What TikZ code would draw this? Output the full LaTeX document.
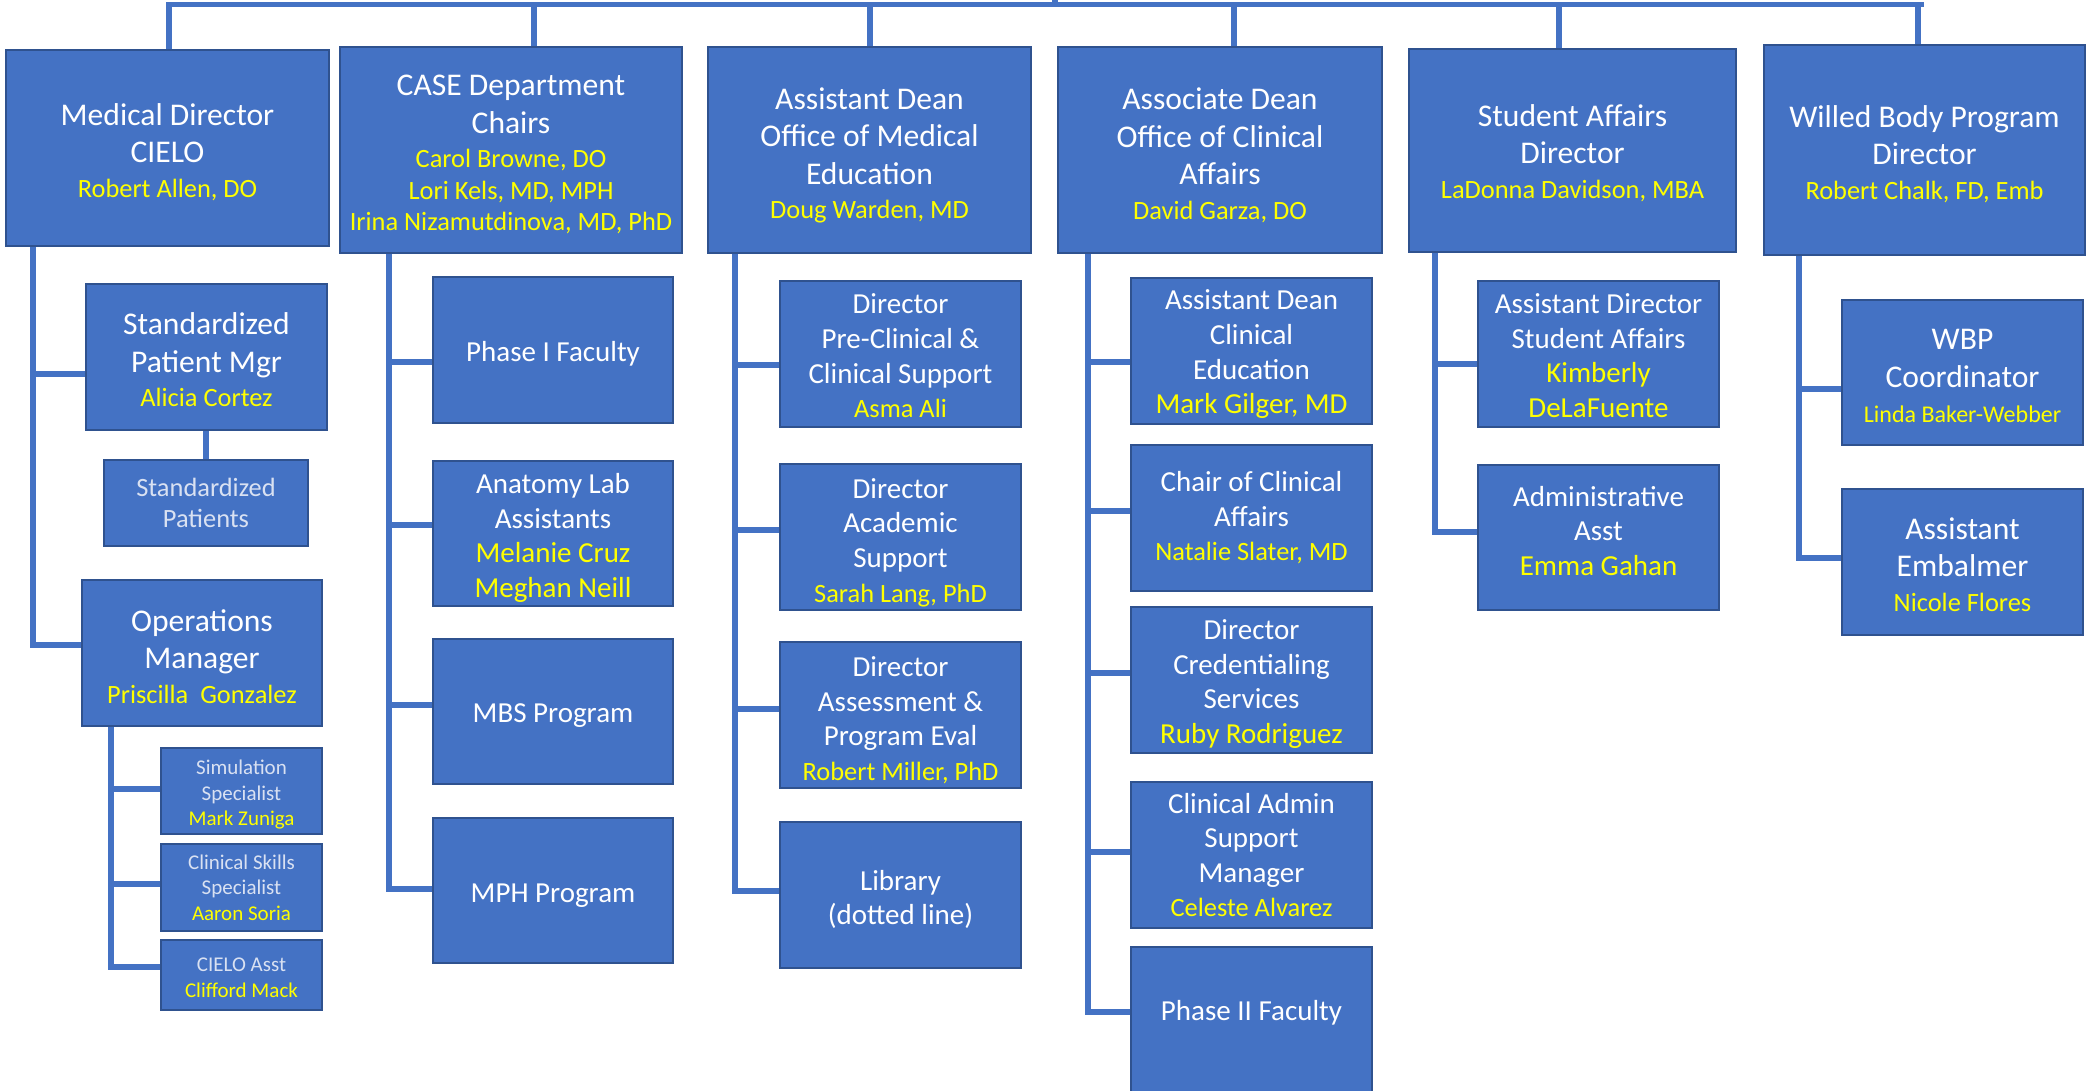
\documentclass[tikz,border=0pt]{standalone}
\usepackage{fontspec}
\setmainfont{Carlito}
\usetikzlibrary{backgrounds}
\definecolor{boxfill}{HTML}{4472C4}
\definecolor{boxline}{HTML}{2F528F}
\definecolor{connc}{HTML}{4472C4}
\definecolor{yel}{HTML}{FFFF00}
\definecolor{gry}{HTML}{D9E1F2}
\newcommand\fxT{\fontsize{15.8}{18.8}\selectfont}
\newcommand\fxN{\fontsize{13.2}{15.8}\selectfont}
\newcommand\fxM{\fontsize{14.5}{17.3}\selectfont}
\newcommand\fxS{\fontsize{10.5}{12.8}\selectfont}
\newcommand\fxL{\fontsize{12}{14.4}\selectfont}
\newcommand\nm[2][\fxN]{{#1\color{yel}#2}}
\newcommand\orgbox[7][]{%
  \node[box,minimum width={(#4-#2)*0.5pt},minimum height={(#5-#3)*0.5pt}] (#6) at ({(#2+#4)/2},{(#3+#5)/2}) {};
  \node[boxtext,#1] (#6-t) at (#6.center) {#7};}
\tikzset{
  box/.style={draw=boxline, fill=boxfill, line width=1.35pt, inner sep=0pt},
  boxtext/.style={inner sep=0pt, align=center, text=white, font=\fxT},
  conn/.style={draw=connc, line width=2.75pt, line cap=rect},
}
\begin{document}
\begin{tikzpicture}[x=0.5pt,y=-0.5pt]
\useasboundingbox (0,0) rectangle (2087,1091);
% level 1
\orgbox[yshift=-2pt]{6}{50}{329}{246}{md}{Medical Director\\CIELO\\[-1.5pt]\nm{Robert Allen, DO}}
\orgbox[yshift=-2.3pt]{340}{47}{682}{253}{case}{CASE Department\\Chairs\\[-1.5pt]\nm{Carol Browne, DO}\\[-3pt]\nm{Lori Kels, MD, MPH}\\[-3pt]\nm{Irina Nizamutdinova, MD, PhD}}
\orgbox[yshift=-2.7pt]{708}{47}{1031}{253}{ome}{Assistant Dean\\Office of Medical\\Education\\[-1.5pt]\nm{Doug Warden, MD}}
\orgbox[yshift=-2.7pt]{1058}{47}{1382}{253}{ocar}{Associate Dean\\Office of Clinical\\Affairs\\[-1.5pt]\nm{David Garza, DO}}
\orgbox[yshift=-1.3pt]{1409}{49}{1736}{252}{sa}{Student Affairs\\Director\\[-1.5pt]\nm{LaDonna Davidson, MBA}}
\orgbox[yshift=-2pt]{1764}{45}{2085}{255}{wb}{Willed Body Program\\Director\\[-1.5pt]\nm{Robert Chalk, FD, Emb}}
% CIELO
\orgbox[yshift=-1.5pt]{86}{284}{327}{430}{spm}{Standardized\\Patient Mgr\\[-1.5pt]\nm{Alicia Cortez}}
\orgbox[font=\fxN,text=gry]{104}{460}{308}{546}{sp}{Standardized\\Patients}
\orgbox[yshift=-1.7pt]{82}{580}{322}{726}{ops}{Operations\\Manager\\[-1.5pt]\nm{Priscilla\ \ Gonzalez}}
\orgbox[font=\fxS,text=gry,yshift=-1.8pt]{161}{748}{322}{834}{sim}{Simulation\\Specialist\\\nm[\fxS]{Mark Zuniga}}
\orgbox[font=\fxS,text=gry]{161}{844}{322}{931}{css}{Clinical Skills\\Specialist\\\nm[\fxS]{Aaron Soria}}
\orgbox[font=\fxS,text=gry,yshift=-1.3pt]{161}{940}{322}{1010}{cia}{CIELO Asst\\\nm[\fxS]{Clifford Mack}}
% CASE
\orgbox[font=\fxM,yshift=-2pt]{433}{277}{673}{423}{ph1}{Phase I Faculty}
\orgbox[font=\fxM,yshift=-2.3pt]{433}{461}{673}{606}{anat}{Anatomy Lab\\Assistants\\\nm[\fxM]{Melanie Cruz}\\\nm[\fxM]{Meghan Neill}}
\orgbox[font=\fxM,yshift=-2pt]{433}{639}{673}{784}{mbs}{MBS Program}
\orgbox[font=\fxM,yshift=-2.7pt]{433}{818}{673}{963}{mph}{MPH Program}
% OME
\orgbox[font=\fxM,yshift=-1pt]{780}{281}{1021}{427}{dpc}{Director\\Pre-Clinical \&\\Clinical Support\\\nm{Asma Ali}}
\orgbox[font=\fxM,yshift=-2.7pt]{780}{464}{1021}{610}{dac}{Director\\Academic\\Support\\\nm{Sarah Lang, PhD}}
\orgbox[font=\fxM,yshift=-2.7pt]{780}{642}{1021}{788}{das}{Director\\Assessment \&\\Program Eval\\\nm{Robert Miller, PhD}}
\orgbox[font=\fxM,yshift=-2.3pt]{780}{822}{1021}{968}{lib}{Library\\(dotted line)}
% OCA
\orgbox[font=\fxM,yshift=-1.7pt]{1131}{278}{1372}{424}{adce}{Assistant Dean\\Clinical\\Education\\\nm[\fxM]{Mark Gilger, MD}}
\orgbox[font=\fxM]{1131}{445}{1372}{591}{ccaf}{Chair of Clinical\\Affairs\\\nm{Natalie Slater, MD}}
\orgbox[font=\fxM,yshift=-2pt]{1131}{607}{1372}{753}{dcs}{Director\\Credentialing\\Services\\\nm[\fxM]{Ruby Rodriguez}}
\orgbox[font=\fxM]{1131}{782}{1372}{928}{cas}{Clinical Admin\\Support\\Manager\\\nm{Celeste Alvarez}}
\orgbox[font=\fxM,yshift=3.3pt]{1131}{947}{1372}{1092}{ph2}{Phase II Faculty}
% SA
\orgbox[font=\fxM,yshift=-0.9pt]{1478}{281}{1719}{427}{adsa}{Assistant Director\\Student Affairs\\\nm[\fxM]{Kimberly}\\\nm[\fxM]{DeLaFuente}}
\orgbox[font=\fxM,yshift=3.3pt]{1478}{465}{1719}{610}{aa}{Administrative\\Asst\\\nm[\fxM]{Emma Gahan}}
% WB
\orgbox[yshift=-1.7pt]{1842}{300}{2083}{445}{wbc}{WBP\\Coordinator\\[-1.5pt]\nm[\fxL]{Linda Baker-Webber}}
\orgbox[yshift=-1.3pt]{1842}{489}{2083}{635}{emb}{Assistant\\Embalmer\\[-1.5pt]\nm{Nicole Flores}}
\begin{scope}[on background layer]
% top bar
\coordinate (barL) at (169,4.5);
\coordinate (barR) at (1921,4.5);
\coordinate (barM) at (1055,4.5);
\coordinate (root) at (1055,-5);
\draw[conn] (barL) -- (barR);
\draw[conn] (barM) -- (root);
\draw[conn] (barL) -- (barL |- md.north);
\coordinate (d2) at (534,4.5);
\coordinate (d3) at (870,4.5);
\coordinate (d4) at (1234,4.5);
\coordinate (d5) at (1559,4.5);
\coordinate (d6) at (1918,4.5);
\draw[conn] (d2) -- (d2 |- case.north);
\draw[conn] (d3) -- (d3 |- ome.north);
\draw[conn] (d4) -- (d4 |- ocar.north);
\draw[conn] (d5) -- (d5 |- sa.north);
\draw[conn] (d6) -- (d6 |- wb.north);
% CIELO
\draw[conn] (md.south -| 33,0) -- (33,645) -- (33,645 -| ops.west);
\draw[conn] (33,374) -- (33,374 -| spm.west);
\draw[conn] (spm.south -| 206,0) -- (206,0 |- sp.north);
\draw[conn] (ops.south -| 111,0) -- (111,967) -- (111,967 -| cia.west);
\draw[conn] (111,789) -- (111,789 -| sim.west);
\draw[conn] (111,884) -- (111,884 -| css.west);
% CASE
\draw[conn] (case.south -| 389,0) -- (389,889) -- (389,889 -| mph.west);
\draw[conn] (389,362) -- (389,362 -| ph1.west);
\draw[conn] (389,525) -- (389,525 -| anat.west);
\draw[conn] (389,705) -- (389,705 -| mbs.west);
% OME
\draw[conn] (ome.south -| 735,0) -- (735,891) -- (735,891 -| lib.west);
\draw[conn] (735,365) -- (735,365 -| dpc.west);
\draw[conn] (735,530) -- (735,530 -| dac.west);
\draw[conn] (735,709) -- (735,709 -| das.west);
% OCA
\draw[conn] (ocar.south -| 1088,0) -- (1088,1012) -- (1088,1012 -| ph2.west);
\draw[conn] (1088,362) -- (1088,362 -| adce.west);
\draw[conn] (1088,511) -- (1088,511 -| ccaf.west);
\draw[conn] (1088,673) -- (1088,673 -| dcs.west);
\draw[conn] (1088,852) -- (1088,852 -| cas.west);
% SA
\draw[conn] (sa.south -| 1435,0) -- (1435,532) -- (1435,532 -| aa.west);
\draw[conn] (1435,364) -- (1435,364 -| adsa.west);
% WB
\draw[conn] (wb.south -| 1799,0) -- (1799,558) -- (1799,558 -| emb.west);
\draw[conn] (1799,389) -- (1799,389 -| wbc.west);
\end{scope}
\end{tikzpicture}
\end{document}
